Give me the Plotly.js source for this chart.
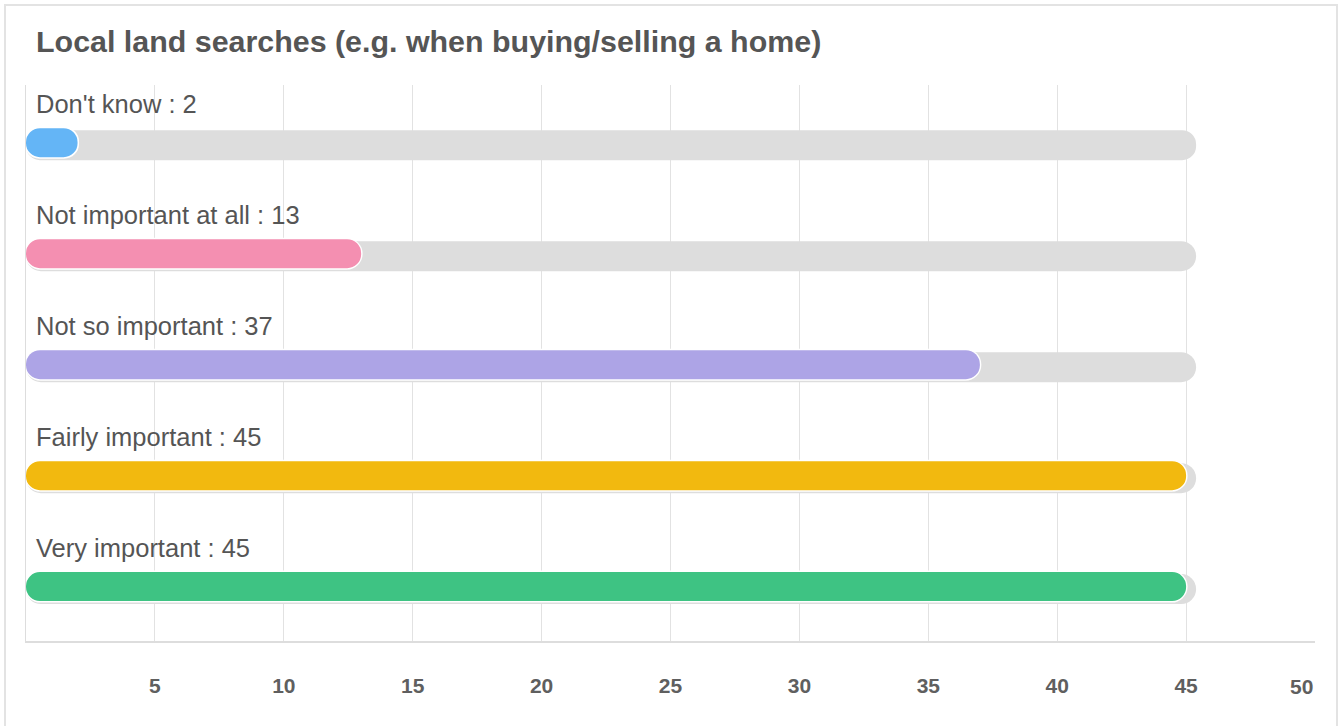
<!DOCTYPE html>
<html><head><meta charset="utf-8">
<script src="https://cdn.plot.ly/plotly-3.0.1.min.js"></script>
<style>
html,body{margin:0;padding:0;background:#fff;overflow:hidden}
#card{position:absolute;left:4px;top:4px;width:1330px;height:760px;border:2px solid #e3e3e3;pointer-events:none;z-index:2}
#chart{position:absolute;left:0;top:0;width:1338px;height:726px}
</style></head><body>
<div id="chart"></div><div id="card"></div>
<script>
const chartTitle = 'Local land searches (e.g. when buying/selling a home)';
const categories = ["Don't know", 'Not important at all', 'Not so important', 'Fairly important', 'Very important'];
const values = [2, 13, 37, 45, 45];
const barColors = ['#64b5f6', '#f48fb1', '#ada4e6', '#f2b90f', '#3ec383'];
const tickValues = [5, 10, 15, 20, 25, 30, 35, 40, 45, 50];
const tickLabels = ['5', '10', '15', '20', '25', '30', '35', '40', '45', '50'];

const W = 1338, H = 726;
const M = {l: 26, r: 23, t: 85, b: 85};
const xRange = [0, 50];
const yRange = [4.49, -0.52];
const pxX = (W - M.l - M.r) / (xRange[1] - xRange[0]);
const pxY = (H - M.t - M.b) / Math.abs(yRange[0] - yRange[1]);
const FONT = 'Liberation Sans, Arial, Helvetica, sans-serif';

// rounded pill: with an explicit base Plotly rounds both ends
function pill(starts, ends, color, thickPx, shiftPx) {
  const w = thickPx / pxY;
  const off = -w / 2 + shiftPx / pxY;
  return {
    type: 'bar', orientation: 'h', y: categories,
    base: starts, x: starts.map((s, i) => ends[i] - s),
    width: categories.map(() => w), offset: categories.map(() => off),
    hoverinfo: 'skip', showlegend: false, opacity: 1,
    marker: {color: color, line: {width: 0}, cornerradius: '50%'}
  };
}

const maxVal = Math.max(...values);
const trackEnd = maxVal + 10 / pxX;
const zeros = categories.map(() => 0);
const traces = [
  pill(zeros, categories.map(() => trackEnd), '#dddddd', 30, 2.5),
  pill(categories.map(() => -1.5 / pxX), values.map(v => v + 1.5 / pxX), '#ffffff', 32, 0),
  pill(zeros, values, barColors, 29, 0)
];

const annotations = categories.map((c, i) => ({
  x: 0, y: c, xref: 'x', yref: 'y', text: c + ' : ' + values[i],
  showarrow: false, xanchor: 'left', yanchor: 'middle', xshift: 8, yshift: 39,
  font: {family: FONT, size: 25.5, color: '#555555'}
}));
annotations.push({
  x: tickValues[tickValues.length - 1], y: 0, xref: 'x', yref: 'paper',
  text: '<b>' + tickLabels[tickLabels.length - 1] + '</b>', showarrow: false,
  xanchor: 'right', yanchor: 'middle', yshift: -45,
  font: {family: FONT, size: 21, color: '#5f5f5f'}
});

const layout = {
  width: W, height: H, margin: M,
  paper_bgcolor: 'rgba(0,0,0,0)', plot_bgcolor: 'rgba(0,0,0,0)',
  barmode: 'overlay',
  title: {
    text: '<b>' + chartTitle + '</b>', xref: 'container', yref: 'container',
    x: 36 / W, xanchor: 'left', y: 1 - 41 / H, yanchor: 'middle',
    font: {family: FONT, size: 30.4, color: '#555555'}
  },
  xaxis: {
    range: xRange, tickvals: tickValues,
    ticktext: tickLabels.map((t, i) => i === tickLabels.length - 1 ? '' : '<b>' + t + '</b>'),
    ticks: 'outside', ticklen: 25, tickcolor: 'rgba(0,0,0,0)',
    tickfont: {family: FONT, size: 21, color: '#5f5f5f'},
    showgrid: true, gridcolor: '#e2e2e2', gridwidth: 1,
    zeroline: false, showline: true, linecolor: '#dddddd', linewidth: 2, fixedrange: true
  },
  yaxis: {
    type: 'category', categoryorder: 'array', categoryarray: categories,
    range: yRange, showticklabels: false, showgrid: false, zeroline: false,
    showline: true, linecolor: '#dddddd', linewidth: 1, ticks: '', fixedrange: true
  },
  annotations: annotations,
  font: {family: FONT}
};

Plotly.newPlot('chart', traces, layout, {displayModeBar: false, staticPlot: true});
</script>
</body></html>
